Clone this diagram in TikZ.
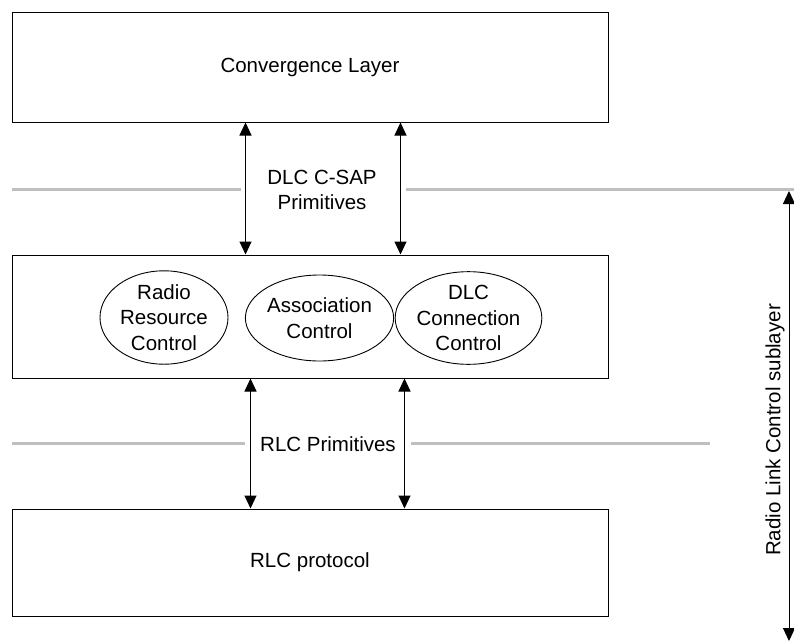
\documentclass[tikz,border=0pt]{standalone}
\usepackage{fontspec}
\setmainfont{Liberation Sans}
\usetikzlibrary{arrows.meta,shapes.geometric}
\begin{document}
\begin{tikzpicture}[x=1pt,y=-1pt,
  every node/.style={font=\fontsize{20.5}{25.5}\selectfont},
  layerbox/.style={draw=black,line width=1pt,minimum width=596pt,inner sep=0pt},
  func/.style={draw=black,line width=0.9pt,ellipse,inner sep=0pt,align=center,minimum height=86pt},
  dbl/.style={line width=1pt,{Triangle[width=12pt,length=13pt]}-{Triangle[width=12pt,length=13pt]}},
  grayline/.style={line width=3pt,draw={rgb,255:red,191;green,191;blue,191}}]
\useasboundingbox (0,0) rectangle (794,642);
% boxes
\node[layerbox,minimum height=109pt] (conv) at (310,67.5) {Convergence Layer};
\node[layerbox,minimum height=123pt] (dlc) at (310,316.5) {};
\node[layerbox,minimum height=107pt] (rlc) at (310,562.5) {RLC protocol};
% ellipses
\node[func,minimum width=128pt] (rrc) at (164,317.5) {Radio\\Resource\\Control};
\node[func,minimum width=133pt] (ac) at (319.5,318) {Association\\Control};
\node[func,minimum width=133pt] (dcc) at (468.5,318) {DLC\\Connection\\Control};
% gray separators
\draw[grayline] (12,189) -- (241,189);
\draw[grayline] (406,189) -- (794,189);
\draw[grayline] (12,443) -- (245,443);
\draw[grayline] (411,443) -- (710,443);
% labels
\node[align=center] (csap) at (322,190) {DLC C-SAP\\Primitives};
\node (rlcp) at (328,444) {RLC Primitives};
% arrows
\draw[dbl] ([xshift=234pt]conv.south west) -- ([xshift=234pt]dlc.north west);
\draw[dbl] ([xshift=389pt]conv.south west) -- ([xshift=389pt]dlc.north west);
\draw[dbl] ([xshift=239pt]dlc.south west) -- ([xshift=239pt]rlc.north west);
\draw[dbl] ([xshift=393pt]dlc.south west) -- ([xshift=393pt]rlc.north west);
% sublayer span
\coordinate (stop) at (789,191);
\coordinate (sbot) at (789,641);
\draw[dbl] (stop) -- (sbot);
\node[rotate=90] (sub) at (775,430) {Radio Link Control sublayer};
\end{tikzpicture}
\end{document}
